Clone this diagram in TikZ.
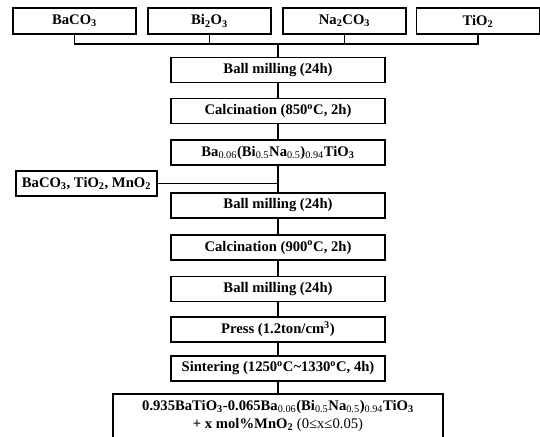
\documentclass[tikz,border=0pt]{standalone}
\usepackage{fontspec}
\setmainfont{Liberation Serif}
\usetikzlibrary{positioning}
\newcommand{\thinsub}[1]{\textsubscript{\mdseries #1}}

\begin{document}
\begin{tikzpicture}[x=0.03cm, y=-0.03cm,
    every node/.style={font=\fontsize{12.5}{15}\selectfont\bfseries},
    rawbox/.style={draw, line width=1.2pt, inner sep=0pt, minimum width=3.69cm, minimum height=0.78cm},
    procbox/.style={draw, line width=1.2pt, inner sep=0pt, minimum width=6.42cm, minimum height=0.75cm},
    link/.style={line width=1.3pt}]
  \useasboundingbox (0,0) rectangle (540,436);

  % starting powders
  \node[rawbox] (baco) at (74.5,21) {BaCO\textsubscript{3}};
  \node[rawbox] (bio)  at (209.5,21) {Bi\textsubscript{2}O\textsubscript{3}};
  \node[rawbox] (naco) at (344.5,21) {Na\textsubscript{2}CO\textsubscript{3}};
  \node[rawbox] (tio)  at (478,21) {TiO\textsubscript{2}};
  \coordinate (mix) at (278,44);
  \foreach \r in {baco,bio,naco,tio}
    \draw[link] (\r.south) |- (mix);

  % process steps
  \node[procbox] (mill1)  at (278,70)    {Ball milling (24h)};
  \node[procbox] (calc1)  at (278,111)   {Calcination (850\textsuperscript{o}C, 2h)};
  \node[procbox] (bnt)    at (278,152.5) {Ba\thinsub{0.06}(Bi\thinsub{0.5}Na\thinsub{0.5})\thinsub{0.94}TiO\textsubscript{3}};
  \node[procbox, minimum width=4.23cm] (add) at (86.5,183.5) {BaCO\textsubscript{3}, TiO\textsubscript{2}, MnO\textsubscript{2}};
  \node[procbox] (mill2)  at (278,205.5) {Ball milling (24h)};
  \node[procbox] (calc2)  at (278,247.5) {Calcination (900\textsuperscript{o}C, 2h)};
  \node[procbox] (mill3)  at (278,289)   {Ball milling (24h)};
  \node[procbox] (press)  at (278,329.5) {Press (1.2ton/cm\textsuperscript{3})};
  \node[procbox] (sinter) at (278,368.5) {Sintering (1250\textsuperscript{o}C\textasciitilde1330\textsuperscript{o}C, 4h)};
  \node[procbox, minimum width=9.9cm, minimum height=1.32cm, align=center] (final) at (278,416)
    {0.935BaTiO\textsubscript{3}-0.065Ba\thinsub{0.06}(Bi\thinsub{0.5}Na\thinsub{0.5})\thinsub{0.94}TiO\textsubscript{3}\\
     + x mol\%MnO\textsubscript{2} {\mdseries(0≤x≤0.05)}};

  \draw[link] (mix) -- (mill1);
  \draw[link] (mill1) -- (calc1) -- (bnt) -- (mill2) -- (calc2) -- (mill3) -- (press) -- (sinter) -- (final);
  \draw[link] (add) -- (add -| bnt);
\end{tikzpicture}
\end{document}
